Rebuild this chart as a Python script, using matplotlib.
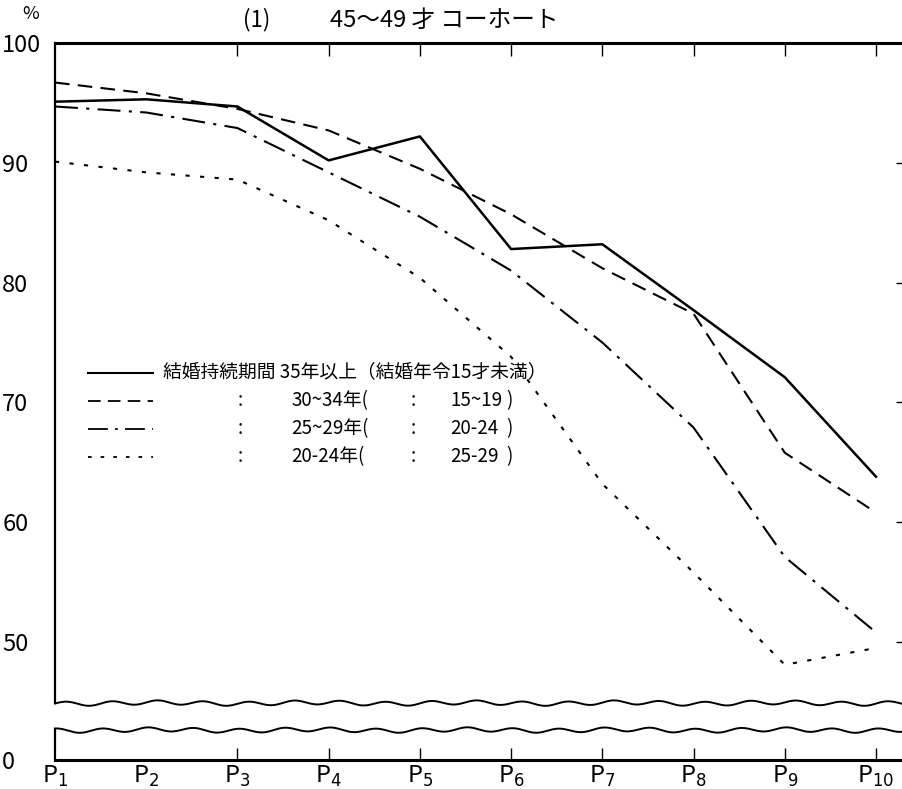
import numpy as np
import matplotlib
matplotlib.use("Agg")
import matplotlib.pyplot as plt
from matplotlib.lines import Line2D

plt.rcParams['font.family'] = ['Noto Sans CJK JP', 'DejaVu Sans']

# ---- data ----
periods = [1, 2, 3, 4, 5, 6, 7, 8, 9, 10]
period_labels = [r"P$_{%d}$" % i for i in periods]
dur35 = [95.1, 95.3, 94.7, 90.2, 92.2, 82.8, 83.2, 77.7, 72.1, 63.8]
dur30 = [96.7, 95.8, 94.5, 92.7, 89.5, 85.7, 81.2, 77.4, 65.8, 60.8]
dur25 = [94.7, 94.2, 92.9, 89.2, 85.5, 81.0, 75.0, 67.9, 57.1, 50.8]
dur20 = [90.1, 89.2, 88.6, 85.2, 80.4, 73.8, 63.2, 55.8, 48.1, 49.5]
yticks = [50, 60, 70, 80, 90, 100]
zero_pos = 40.15   # where "0" sits on the compressed axis
breaks = [44.9, 42.65]

W, H = 903, 789
fig = plt.figure(figsize=(W / 100, H / 100), dpi=100)
ax = fig.add_axes([55 / W, 1 - 760 / H, 1 - 55 / W, (760 - 43) / H])

def fx(x):
    return x / W

def fy(y):
    return 1 - y / H

ax.plot(periods, dur35, color='black', lw=1.8, ls='-')
ax.plot(periods, dur30, color='black', lw=1.5, ls=(0, (7, 4)))
ax.plot(periods, dur25, color='black', lw=1.5, ls=(0, (11, 4, 1.5, 4)))
ax.plot(periods, dur20, color='black', lw=1.5, ls=(0, (2, 5)))

ax.set_xlim(1, 10.296)
ax.set_ylim(zero_pos, 100)

# axes styling
for s in ['left', 'right']:
    ax.spines[s].set_visible(False)
ax.spines['top'].set_linewidth(2.2)
ax.spines['bottom'].set_linewidth(2.2)

ax.set_xticks(periods)
ax.set_xticklabels(period_labels, fontsize=17)
ax.tick_params(axis='x', direction='in', length=9, width=1.0, top=True, bottom=True, pad=3)
for t in ax.xaxis.get_major_ticks()[:2]:
    t.tick1line.set_visible(False)
    t.tick2line.set_visible(False)
ax.set_yticks([zero_pos] + yticks)
ax.set_yticklabels(['0'] + [str(v) for v in yticks], fontsize=17)
ax.tick_params(axis='y', direction='in', length=0, left=True, right=False, pad=38)
for lab in ax.get_yticklabels():
    lab.set_horizontalalignment('left')
# right edge small ticks
axr = ax.twinx()
axr.set_ylim(ax.get_ylim())
axr.set_yticks(yticks[:-1])
axr.set_yticklabels([])
axr.tick_params(axis='y', direction='in', length=5, width=1.0)
for s in axr.spines.values():
    s.set_visible(False)

# left spine with a gap at the break
lo = (breaks[1] - zero_pos) / (100 - zero_pos)
hi = (breaks[0] - zero_pos) / (100 - zero_pos)
ax.axvline(1, ymin=0, ymax=lo, color='black', lw=1.6, clip_on=False)
ax.axvline(1, ymin=hi, ymax=1, color='black', lw=1.6, clip_on=False)

# wavy break lines
xs = np.linspace(1, 10.296, 800)
for b, ph in zip(breaks, [0.0, 1.3]):
    wave = b + 0.17 * np.sin(2 * np.pi * xs / 0.5 + ph) + 0.06 * np.sin(2 * np.pi * xs / 1.7)
    ax.plot(xs, wave, color='black', lw=1.4, clip_on=False)

# title and unit
fig.text(fx(243), fy(20), "(1)", fontsize=16, va='center', ha='left')
fig.text(fx(330), fy(20), "45～49 才 コーホート", fontsize=17, va='center', ha='left')
fig.text(fx(22), fy(14), "%", fontsize=13, va='center', ha='left')

# legend (manual)
rows_y = [373, 401, 429, 457]
styles = [dict(lw=1.5, ls='-'), dict(lw=1.3, ls=(0, (7, 4))),
          dict(lw=1.3, ls=(0, (11, 4, 1.5, 4))), dict(lw=1.3, ls=(0, (2, 5)))]
for y, st in zip(rows_y, styles):
    fig.add_artist(Line2D([fx(88), fx(153)], [fy(y), fy(y)], color='black',
                          transform=fig.transFigure, **st))
fs = 13.5
fig.text(fx(163), fy(rows_y[0]), "結婚持続期間 35年以上（結婚年令15才未満）",
         fontsize=fs, va='center', ha='left')
rest = [("30~34年(", "15~19"), ("25~29年(", "20-24"), ("20-24年(", "25-29")]
for y, (a, b) in zip(rows_y[1:], rest):
    fig.text(fx(240), fy(y), ":", fontsize=fs, va='center', ha='center')
    fig.text(fx(291), fy(y), a, fontsize=fs, va='center', ha='left')
    fig.text(fx(413), fy(y), ":", fontsize=fs, va='center', ha='center')
    fig.text(fx(450), fy(y), b, fontsize=fs, va='center', ha='left')
    fig.text(fx(506), fy(y), ")", fontsize=fs, va='center', ha='left')

fig.savefig("out.png", dpi=100)
